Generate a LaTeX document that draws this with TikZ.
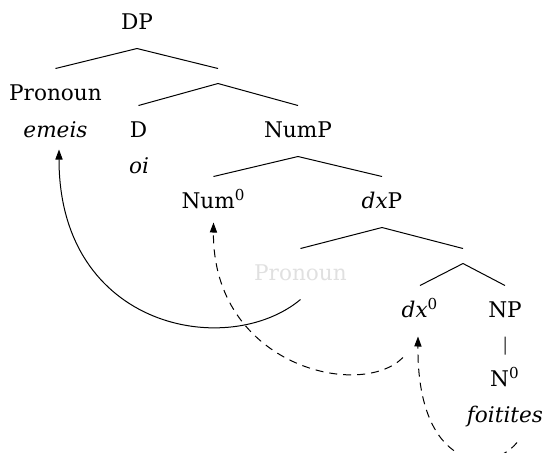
\documentclass[tikz,border=0pt]{standalone}
\usepackage{fontspec}
\setmainfont{DejaVu Serif}[Scale=1.08]
\usetikzlibrary{arrows.meta}

\begin{document}
\begin{tikzpicture}[x=0.5pt, y=0.5pt, line width=0.5pt,
    cat/.style={anchor=base, inner xsep=1pt, inner ysep=7.5pt, text height=8pt, text depth=2pt},
    gloss/.style={anchor=base, inner sep=4pt, text height=8pt, text depth=2pt, font=\itshape},
    bar/.style={inner sep=3.5pt},
    move/.style={-{Triangle[length=5pt, width=3.6pt]}},
    trace/.style={move, dash pattern=on 4pt off 3pt}]
    \useasboundingbox (0, 0) rectangle (542, -452);

    % tree
    \node[cat] (DP) at (137, -29) {DP};
    \node[cat] (Pron) at (55.5, -100) {Pronoun};
    \node[gloss] (emeis) at (55.5, -137) {emeis};
    \node[bar] (Dbar) at (218, -76) {};
    \node[cat] (D) at (138.5, -137) {D};
    \node[gloss] (oi) at (139, -173) {oi};
    \node[cat] (NumP) at (298, -137) {NumP};
    \node[cat] (Num) at (213.5, -208) {Num\textsuperscript{0}};
    \node[cat] (dxP) at (382, -208) {\textit{dx}P};
    \node[cat, text=black!12] (Pron2) at (300.5, -280) {Pronoun};
    \node[bar] (dxbar) at (463, -256) {};
    \node[cat] (dx) at (420, -317) {\textit{dx}\textsuperscript{0}};
    \node[cat] (NP) at (505, -317) {NP};
    \node[cat] (N) at (505, -386) {N\textsuperscript{0}};
    \node[gloss] (foitites) at (505, -422) {foitites};

    \draw (DP.south) -- (Pron.north)
        (DP.south) -- (Dbar.north)
        (Dbar.south) -- (D.north)
        (Dbar.south) -- (NumP.north)
        (NumP.south) -- (Num.north)
        (NumP.south) -- (dxP.north)
        (dxP.south) -- (Pron2.north)
        (dxP.south) -- (dxbar.north)
        (dxbar.south) -- (dx.north)
        (dxbar.south) -- (NP.north)
        (NP.south) -- (N.north);

    % movement
    \draw[move] (Pron2.south) .. controls +(-72, -60) and +(0, -180) .. ([xshift=1.75pt]emeis.south);
    \draw[trace] ([shift={(-8.5pt, -10.5pt)}]dx.south) .. controls +(-43, -43) and +(-1, -143) .. ([yshift=2.5pt]Num.south);
    \draw[trace] ([shift={(6pt, -4pt)}]foitites.south) .. controls +(-27, -33) and +(-1, -132) .. ([xshift=-1pt]dx.south);
\end{tikzpicture}
\end{document}
